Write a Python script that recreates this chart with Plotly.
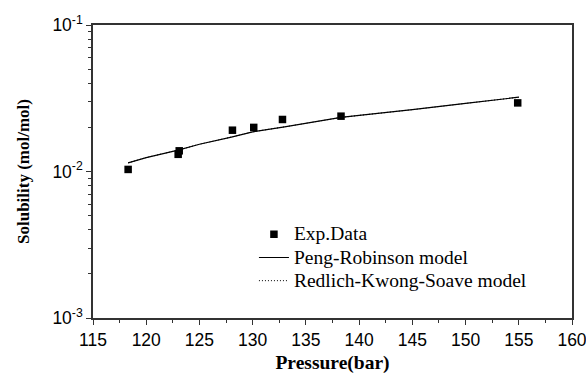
import plotly.graph_objects as go

# Experimental data
exp_pressure = [118.3, 123.0, 123.1, 128.1, 130.1, 132.8, 138.3, 154.9]
exp_solubility = [0.01033, 0.0131, 0.01384, 0.01914, 0.0200, 0.02265, 0.02386, 0.0294]

# Model curves
model_pressure = [118.3, 120, 123, 125, 128, 130, 133, 135, 138.3, 140, 143.8, 145, 150, 155]
pr_solubility = [0.01146, 0.01245, 0.01400, 0.01535, 0.01718, 0.01866, 0.02018, 0.02128,
                 0.02339, 0.02415, 0.02582, 0.02642, 0.02917, 0.03214]
rks_solubility = [0.01146, 0.01245, 0.01400, 0.01535, 0.01718, 0.01866, 0.02018, 0.02128,
                  0.02339, 0.02415, 0.02582, 0.02642, 0.02917, 0.03214]

series_names = ["Exp.Data", "Peng-Robinson model", "Redlich-Kwong-Soave model"]

x_ticks = [115, 120, 125, 130, 135, 140, 145, 150, 155, 160]
y_ticks = [0.001, 0.01, 0.1]
y_ticktext = ["10<sup>-3</sup>", "10<sup>-2</sup>", "10<sup>-1</sup>"]
y_minor = [k * 1e-3 for k in range(2, 10)] + [k * 1e-2 for k in range(2, 10)]


def big(name):
    return '<span style="font-size:19.5px">' + name + "</span>"


fig = go.Figure()
fig.add_trace(go.Scatter(x=exp_pressure, y=exp_solubility, mode="markers", name=big(series_names[0]),
                         marker=dict(symbol="square", size=7.5, color="black")))
fig.add_trace(go.Scatter(x=model_pressure, y=pr_solubility, mode="lines", name=big(series_names[1]),
                         line=dict(color="black", width=1.2)))
fig.add_trace(go.Scatter(x=model_pressure, y=rks_solubility, mode="lines",
                         name=big(series_names[2]),
                         line=dict(color="black", width=1, dash="1px,2px")))

axis_line = dict(showline=True, linecolor="#333333", linewidth=1.5, mirror=True,
                 showgrid=False, zeroline=False, ticks="outside", ticklen=5, tickwidth=1.2,
                 tickcolor="#333333", automargin=False, ticklabeloverflow="allow",
                 tickfont=dict(family="Liberation Sans, Arial", size=17.5, color="black"))

fig.update_xaxes(range=[115, 160], tickmode="array", tickvals=x_ticks, ticklabelstandoff=0,
                 minor=dict(ticks="outside", ticklen=3, tickwidth=1.2, tickcolor="#333333",
                            dtick=2.5, tick0=115, showgrid=False),
                 title=dict(text="<b>Pressure(bar)</b>", standoff=20,
                            font=dict(family="Liberation Serif, Times New Roman", size=19.5,
                                      color="black")),
                 **axis_line)
fig.update_yaxes(type="log", range=[-3, -1], tickmode="array", tickvals=y_ticks,
                 ticktext=y_ticktext,
                 minor=dict(ticks="outside", ticklen=3, tickwidth=1.2, tickcolor="#333333",
                            tickmode="array", tickvals=y_minor, showgrid=False),
                 title=dict(text="<b>Solubility (mol/mol)</b>", standoff=18,
                            font=dict(family="Liberation Serif, Times New Roman", size=17,
                                      color="black")),
                 **axis_line)

fig.update_layout(
    width=586, height=374,
    margin=dict(l=93, r=14, t=25, b=56, autoexpand=False),
    plot_bgcolor="white", paper_bgcolor="white",
    legend=dict(x=0.336, y=0.342, xanchor="left", yanchor="top",
                bgcolor="rgba(0,0,0,0)", borderwidth=0,
                font=dict(family="Liberation Serif, Times New Roman", size=15.5, color="black"),
                tracegroupgap=0),
)

fig.write_html("out.html")
